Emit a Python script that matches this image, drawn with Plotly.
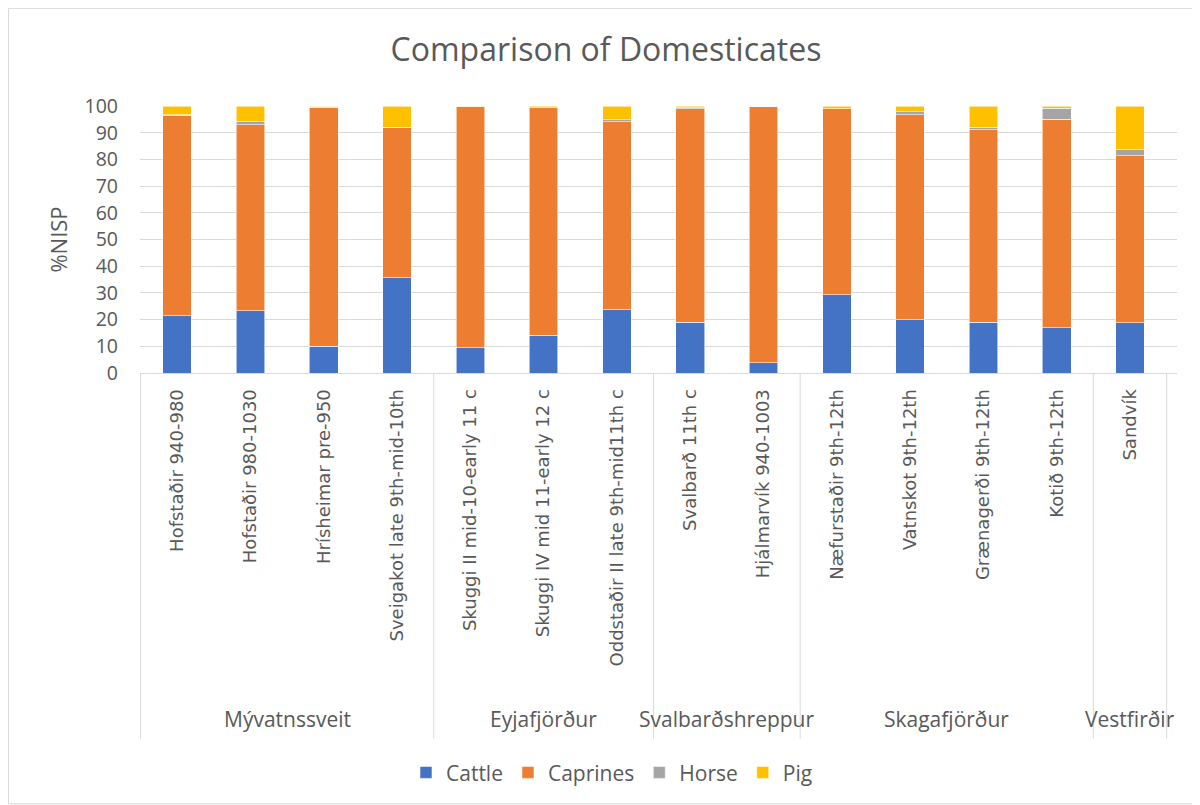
import plotly.graph_objects as go

groups = ["Mývatnssveit", "Mývatnssveit", "Mývatnssveit", "Mývatnssveit",
          "Eyjafjörður", "Eyjafjörður", "Eyjafjörður",
          "Svalbarðshreppur", "Svalbarðshreppur",
          "Skagafjörður", "Skagafjörður", "Skagafjörður", "Skagafjörður",
          "Vestfirðir"]
sites = ["Hofstaðir 940-980", "Hofstaðir 980-1030", "Hrísheimar pre-950",
         "Sveigakot late 9th-mid-10th", "Skuggi II mid-10-early 11 c",
         "Skuggi IV mid 11-early 12 c", "Oddstaðir II late 9th-mid11th c",
         "Svalbarð 11th c", "Hjálmarvík 940-1003", "Næfurstaðir 9th-12th",
         "Vatnskot 9th-12th", "Grænagerði 9th-12th", "Kotið 9th-12th", "Sandvík"]
cattle = [21.4, 23.3, 10.1, 35.6, 9.4, 14.1, 23.6, 19.0, 3.8, 29.3, 19.9, 19.1, 16.9, 18.8]
caprines = [75.1, 69.7, 89.5, 56.3, 90.3, 85.3, 70.5, 80.0, 95.9, 69.7, 76.9, 72.0, 78.1, 62.6]
horse = [0.2, 1.1, 0.1, 0.2, 0.0, 0.0, 0.8, 0.3, 0.3, 0.0, 1.0, 0.9, 4.1, 2.2]
pig = [3.3, 5.9, 0.3, 7.9, 0.3, 0.6, 5.1, 0.7, 0.0, 1.0, 2.2, 8.0, 0.9, 16.4]
y_ticks = [0, 10, 20, 30, 40, 50, 60, 70, 80, 90, 100]

series = [("Cattle", cattle, "#4472C4"), ("Caprines", caprines, "#ED7D31"),
          ("Horse", horse, "#A5A5A5"), ("Pig", pig, "#FFC000")]

fig = go.Figure()
for name, vals, col in series:
    fig.add_trace(go.Bar(name=name, x=sites, y=vals, marker_color=col,
                         marker_line=dict(color="rgba(255,255,255,0.7)", width=0.8)))

TXT = "#595959"
GRID = "#d9d9d9"
FONT = "Open Sans"

# plot area on screen: x 140-1177, y 106-372.7 (page has 8px body offset)
ph = 266.7
pw = 1037.0
def py(p):
    return (372.7 - p) / ph
def px(p):
    return (p - 140) / pw

order = []
for g in groups:
    if g not in order:
        order.append(g)
shapes = []
annotations = []
start = 0
bounds = [-0.5]
for g in order:
    n = groups.count(g)
    annotations.append(dict(x=start + (n - 1) / 2, xref="x", y=py(718), yref="paper",
                            text=g, showarrow=False, yanchor="middle",
                            font=dict(family=FONT, size=21, color=TXT)))
    start += n
    bounds.append(start - 0.5)
for b in bounds:
    shapes.append(dict(type="line", xref="x", yref="paper", x0=b, x1=b, y0=0, y1=py(738),
                       line=dict(color=GRID, width=1)))
shapes.append(dict(type="rect", xref="paper", yref="paper",
                   x0=px(8.5), x1=px(1198.5), y0=py(803), y1=py(8.5),
                   line=dict(color=GRID, width=1), layer="below"))

fig.update_layout(
    barmode="stack",
    bargap=0.61,
    width=1200, height=805,
    margin=dict(l=132, r=31, t=98, b=440),
    plot_bgcolor="white", paper_bgcolor="white",
    font=dict(family=FONT, color=TXT),
    title=dict(text="Comparison of Domesticates", x=(606 - 8) / 1200, xref="container",
               y=1 - (50 - 8) / 805, yref="container", xanchor="center", yanchor="middle",
               font=dict(family=FONT, size=32, color=TXT)),
    legend=dict(orientation="h", x=px(612), xanchor="center",
                y=py(772), yanchor="middle", font=dict(family=FONT, size=21, color=TXT),
                traceorder="normal"),
    shapes=shapes, annotations=annotations,
)
fig.update_xaxes(type="category", tickangle=-90, showgrid=False, showline=True,
                 linecolor=GRID, linewidth=1, ticks="", ticklabelstandoff=8,
                 tickfont=dict(family="DejaVu Sans", size=18, color=TXT))
fig.update_yaxes(range=[0, 100], tickvals=y_ticks, showgrid=True, gridcolor=GRID,
                 gridwidth=1, zeroline=False, showline=False, ticklabelstandoff=21,
                 tickfont=dict(family=FONT, size=19.5, color=TXT),
                 title=dict(text="%NISP", font=dict(family=FONT, size=22, color=TXT),
                            standoff=10))

fig.write_html("out.html")
